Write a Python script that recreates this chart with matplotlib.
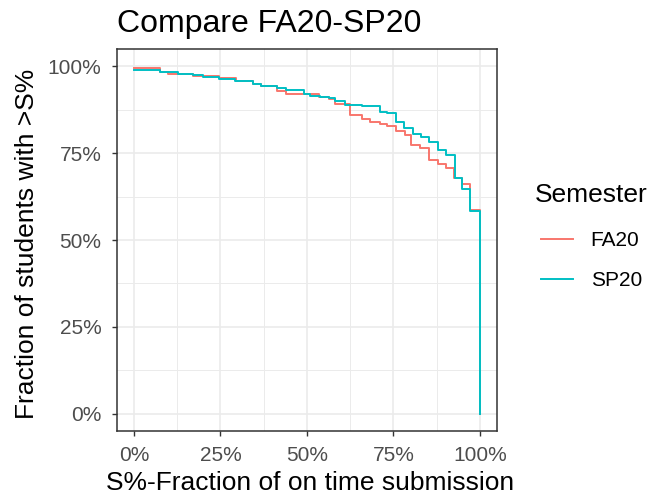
import matplotlib
matplotlib.use("Agg")
import matplotlib.pyplot as plt
from matplotlib.ticker import PercentFormatter, MultipleLocator

plt.rcParams['font.family'] = ['Liberation Sans', 'DejaVu Sans']

# step curves: fraction of students with on-time share > S
fa20_x = [0.000, 0.075, 0.099, 0.170, 0.247, 0.295, 0.345, 0.368, 0.414, 0.438,
          0.534, 0.563, 0.582, 0.625, 0.658, 0.682, 0.711, 0.730, 0.757, 0.783,
          0.802, 0.828, 0.854, 0.878, 0.902, 0.926, 0.947, 0.971, 1.000]
fa20_y = [0.995, 0.984, 0.979, 0.973, 0.968, 0.959, 0.950, 0.944, 0.929, 0.921,
          0.912, 0.905, 0.892, 0.861, 0.850, 0.840, 0.834, 0.828, 0.813, 0.803,
          0.774, 0.765, 0.730, 0.718, 0.707, 0.678, 0.660, 0.587, 0.000]

sp20_x = [0.000, 0.075, 0.127, 0.170, 0.199, 0.247, 0.292, 0.345, 0.368, 0.414,
          0.438, 0.491, 0.510, 0.539, 0.563, 0.582, 0.610, 0.658, 0.711, 0.730,
          0.757, 0.781, 0.805, 0.829, 0.854, 0.878, 0.902, 0.927, 0.948, 0.972,
          1.000]
sp20_y = [0.990, 0.984, 0.979, 0.974, 0.969, 0.964, 0.959, 0.950, 0.944, 0.937,
          0.931, 0.921, 0.916, 0.912, 0.909, 0.899, 0.889, 0.885, 0.870, 0.865,
          0.840, 0.822, 0.804, 0.797, 0.781, 0.760, 0.744, 0.680, 0.646, 0.585,
          0.000]

ticks = [0, 0.25, 0.5, 0.75, 1.0]

fig = plt.figure(figsize=(6.54, 4.98), dpi=100)
ax = fig.add_axes([0.1784, 0.1345, 0.582, 0.767])

ax.step(fa20_x, fa20_y, where='post', color='#F8766D', lw=1.4, label='FA20')
ax.step(sp20_x, sp20_y, where='post', color='#00BFC4', lw=1.4, label='SP20')

ax.set_xlim(-0.05, 1.05)
ax.set_ylim(-0.05, 1.05)
ax.set_xticks(ticks)
ax.set_yticks(ticks)
ax.xaxis.set_minor_locator(MultipleLocator(0.125))
ax.yaxis.set_minor_locator(MultipleLocator(0.125))
ax.xaxis.set_major_formatter(PercentFormatter(1.0, decimals=0))
ax.yaxis.set_major_formatter(PercentFormatter(1.0, decimals=0))

ax.grid(which='major', color='#EBEBEB', lw=1.2)
ax.grid(which='minor', color='#EBEBEB', lw=0.7)
ax.set_axisbelow(True)
ax.tick_params(which='minor', length=0)
ax.tick_params(which='major', length=3.6, width=1, color='#333333',
               labelcolor='#4D4D4D', labelsize=15, pad=7.5)
for s in ax.spines.values():
    s.set_color('#333333')
    s.set_linewidth(1.1)

ax.set_xlabel('S%-Fraction of on time submission', fontsize=19)
ax.set_ylabel('Fraction of students with >S%', fontsize=19)
ax.xaxis.set_label_coords(0.508, -0.105)
ax.yaxis.set_label_coords(-0.203, 0.49)
ax.set_title('Compare FA20-SP20', fontsize=23, loc='left', pad=12.5)

leg = ax.legend(loc='upper left', bbox_to_anchor=(0.818, 0.6325),
                bbox_transform=fig.transFigure, frameon=False, borderpad=0,
                borderaxespad=0, title='Semester', fontsize=15,
                title_fontsize=19, handlelength=1.52, handletextpad=0.85,
                labelspacing=1.0)
leg._legend_box.align = 'left'
# indent the keys a little and keep the title gap
leg._legend_handle_box.pad = 4.5
leg._legend_box.sep = 12.8
for line in leg.get_lines():
    line.set_linewidth(1.4)

fig.savefig('out.png', dpi=100)
